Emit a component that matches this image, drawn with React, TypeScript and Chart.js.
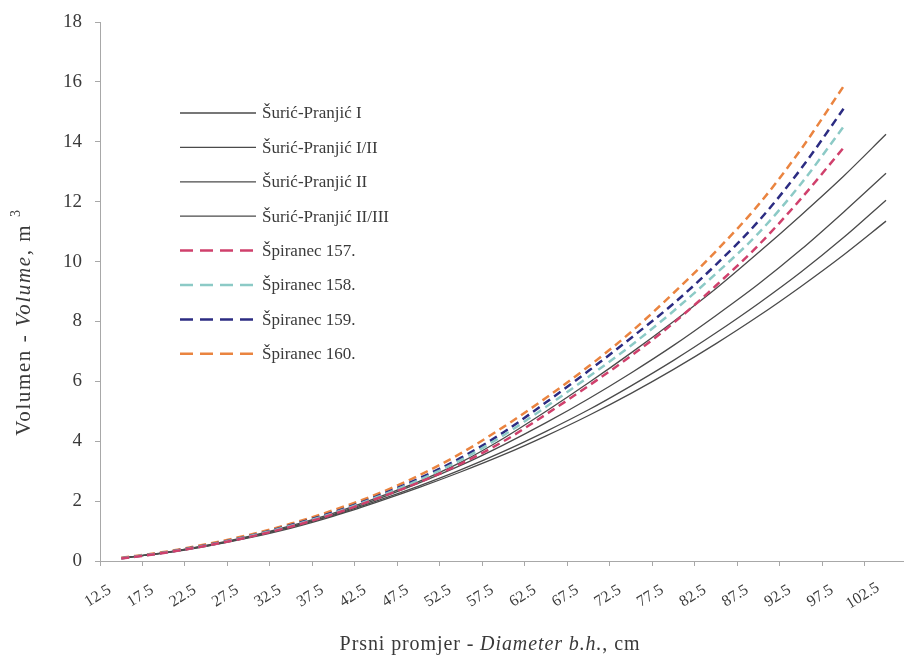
import React, { useEffect, useRef } from 'react';
import { Chart, registerables } from 'chart.js';

Chart.register(...registerables);

// ---- Data ----
const diameters = [15, 20, 25, 30, 35, 40, 45, 50, 55, 60, 65, 70, 75, 80, 85, 90, 95, 100, 105];
const diametersSpiranec = [15, 20, 25, 30, 35, 40, 45, 50, 55, 60, 65, 70, 75, 80, 85, 90, 95, 100];

const xTickLabels = [12.5, 17.5, 22.5, 27.5, 32.5, 37.5, 42.5, 47.5, 52.5, 57.5, 62.5, 67.5, 72.5, 77.5, 82.5, 87.5, 92.5, 97.5, 102.5];
const yTickLabels = [0, 2, 4, 6, 8, 10, 12, 14, 16, 18];

const suricPranjicI = [0.1, 0.28, 0.52, 0.82, 1.18, 1.6, 2.1, 2.65, 3.3, 4.1, 5.0, 5.95, 6.95, 8.0, 9.1, 10.3, 11.55, 12.85, 14.25];
const suricPranjicIII = [0.1, 0.27, 0.51, 0.8, 1.15, 1.56, 2.05, 2.6, 3.2, 3.88, 4.62, 5.42, 6.28, 7.2, 8.2, 9.25, 10.4, 11.65, 12.95];
const suricPranjicII = [0.1, 0.27, 0.5, 0.79, 1.13, 1.53, 2.0, 2.5, 3.05, 3.66, 4.33, 5.05, 5.85, 6.7, 7.62, 8.6, 9.65, 10.8, 12.05];
const suricPranjicIIIII = [0.1, 0.26, 0.49, 0.77, 1.1, 1.5, 1.96, 2.45, 2.98, 3.55, 4.18, 4.86, 5.6, 6.4, 7.26, 8.18, 9.17, 10.22, 11.35];

const spiranec157 = [0.08, 0.27, 0.51, 0.8, 1.15, 1.57, 2.08, 2.62, 3.25, 4.0, 4.9, 5.85, 6.85, 7.95, 9.2, 10.55, 12.1, 13.8];
const spiranec158 = [0.09, 0.28, 0.52, 0.82, 1.18, 1.6, 2.12, 2.7, 3.38, 4.2, 5.15, 6.15, 7.2, 8.35, 9.6, 10.95, 12.6, 14.5];
const spiranec159 = [0.09, 0.28, 0.53, 0.83, 1.2, 1.63, 2.15, 2.75, 3.45, 4.3, 5.3, 6.35, 7.45, 8.6, 9.9, 11.35, 13.1, 15.1];
const spiranec160 = [0.11, 0.3, 0.56, 0.87, 1.25, 1.7, 2.22, 2.85, 3.6, 4.48, 5.45, 6.5, 7.65, 8.95, 10.35, 11.9, 13.75, 15.85];

const seriesLabels = [
  'Šurić-Pranjić I',
  'Šurić-Pranjić I/II',
  'Šurić-Pranjić II',
  'Šurić-Pranjić II/III',
  'Špiranec 157.',
  'Špiranec 158.',
  'Špiranec 159.',
  'Špiranec 160.',
];

// ---- Styles ----
const FONT = '"Liberation Serif", "Times New Roman", serif';
const TEXT = '#3a3a3a';
const AXIS = '#a8a8a8';
const SOLID = '#4a4a4a';
const COLORS = [SOLID, SOLID, SOLID, SOLID, '#d0406c', '#8ccac6', '#2c2c82', '#ea8440'];

const toPoints = (xs: number[], ys: number[]) => xs.map((x, i) => ({ x, y: ys[i] }));

type Seg = { t: string; italic?: boolean; sup?: boolean };

function drawSegments(ctx: CanvasRenderingContext2D, segs: Seg[], size: number, spacing: number) {
  const c: any = ctx;
  c.letterSpacing = `${spacing}px`;
  const fontFor = (s: Seg) => `${s.italic ? 'italic ' : ''}${s.sup ? Math.round(size * 0.65) : size}px ${FONT}`;
  let total = 0;
  segs.forEach((s) => {
    ctx.font = fontFor(s);
    total += ctx.measureText(s.t).width;
  });
  let x = -total / 2;
  segs.forEach((s) => {
    ctx.font = fontFor(s);
    ctx.fillText(s.t, x, s.sup ? -size * 0.38 : 0);
    x += ctx.measureText(s.t).width;
  });
  c.letterSpacing = '0px';
}

const overlayPlugin = {
  id: 'overlay',
  afterDraw(chart: any) {
    const ctx: CanvasRenderingContext2D = chart.ctx;
    const xs = chart.scales.x;
    ctx.save();
    ctx.fillStyle = TEXT;

    // x tick labels, rotated and centred under the ticks
    ctx.font = `16px ${FONT}`;
    ctx.textAlign = 'center';
    ctx.textBaseline = 'middle';
    xTickLabels.forEach((v) => {
      const px = xs.getPixelForValue(v);
      ctx.save();
      ctx.translate(px - 2, xs.top + 35);
      ctx.rotate((-32 * Math.PI) / 180);
      ctx.fillText(String(v), 0, 0);
      ctx.restore();
    });

    // axis titles
    ctx.textAlign = 'left';
    ctx.textBaseline = 'middle';
    ctx.save();
    ctx.translate(490, 645);
    drawSegments(ctx, [{ t: 'Prsni promjer - ' }, { t: 'Diameter b.h.', italic: true }, { t: ', cm' }], 20, 0.9);
    ctx.restore();

    ctx.save();
    ctx.translate(24, 322);
    ctx.rotate(-Math.PI / 2);
    drawSegments(ctx, [{ t: 'Volumen - ' }, { t: 'Volume', italic: true }, { t: ', m ' }, { t: '3', sup: true }], 21, 1.6);
    ctx.restore();

    // legend
    const lx0 = 180;
    const lx1 = 256;
    const ly0 = 113;
    const lstep = 34.4;
    ctx.font = `17px ${FONT}`;
    ctx.textBaseline = 'middle';
    seriesLabels.forEach((label, i) => {
      const y = ly0 + i * lstep;
      ctx.beginPath();
      ctx.strokeStyle = COLORS[i];
      if (i < 4) {
        ctx.setLineDash([]);
        ctx.lineWidth = 1.3;
      } else {
        ctx.setLineDash([13, 7]);
        ctx.lineWidth = 2.5;
      }
      ctx.moveTo(lx0, y);
      ctx.lineTo(lx1, y);
      ctx.stroke();
      ctx.setLineDash([]);
      ctx.fillStyle = TEXT;
      ctx.fillText(label, 262, y + 1);
    });
    ctx.restore();
  },
};

export default function App() {
  const canvasRef = useRef<HTMLCanvasElement | null>(null);

  useEffect(() => {
    if (!canvasRef.current) return;
    const solidSets = [suricPranjicI, suricPranjicIII, suricPranjicII, suricPranjicIIIII].map((vals, i) => ({
      label: seriesLabels[i],
      data: toPoints(diameters, vals),
      borderColor: COLORS[i],
      borderWidth: 1.3,
      pointRadius: 0,
      fill: false,
      cubicInterpolationMode: 'monotone' as const,
      order: 2,
    }));
    const dashedSets = [spiranec157, spiranec158, spiranec159, spiranec160].map((vals, j) => ({
      label: seriesLabels[j + 4],
      data: toPoints(diametersSpiranec, vals),
      borderColor: COLORS[j + 4],
      borderWidth: 2.5,
      borderDash: [8, 5],
      pointRadius: 0,
      fill: false,
      cubicInterpolationMode: 'monotone' as const,
      order: 1,
    }));

    const chart = new Chart(canvasRef.current, {
      type: 'line',
      data: { datasets: [...solidSets, ...dashedSets] as any },
      options: {
        animation: false,
        responsive: false,
        devicePixelRatio: 1,
        layout: { padding: { top: 22, right: 3, left: 0, bottom: 0 } },
        plugins: { legend: { display: false }, tooltip: { enabled: false }, title: { display: false } },
        scales: {
          x: {
            type: 'linear',
            min: 12.5,
            max: 107,
            afterBuildTicks: (s: any) => {
              s.ticks = xTickLabels.map((v) => ({ value: v }));
            },
            afterFit: (s: any) => {
              s.height = 98;
              s.paddingLeft = 0;
              s.paddingRight = 0;
            },
            ticks: { display: false },
            grid: { drawOnChartArea: false, drawTicks: true, tickLength: 5, color: AXIS },
            border: { color: AXIS, width: 1 },
          },
          y: {
            type: 'linear',
            min: 0,
            max: 18,
            afterBuildTicks: (s: any) => {
              s.ticks = yTickLabels.map((v) => ({ value: v }));
            },
            afterFit: (s: any) => {
              s.width = 100;
              s.paddingTop = 0;
              s.paddingBottom = 0;
            },
            ticks: { color: TEXT, font: { family: FONT, size: 19 }, padding: 13 },
            grid: { drawOnChartArea: false, drawTicks: true, tickLength: 5, color: AXIS },
            border: { color: AXIS, width: 1 },
          },
        },
      },
      plugins: [overlayPlugin],
    });
    return () => chart.destroy();
  }, []);

  return (
    <div style={{ position: 'absolute', left: 0, top: 0, width: 906, height: 659, background: '#fff' }}>
      <canvas ref={canvasRef} width={906} height={659} />
    </div>
  );
}
